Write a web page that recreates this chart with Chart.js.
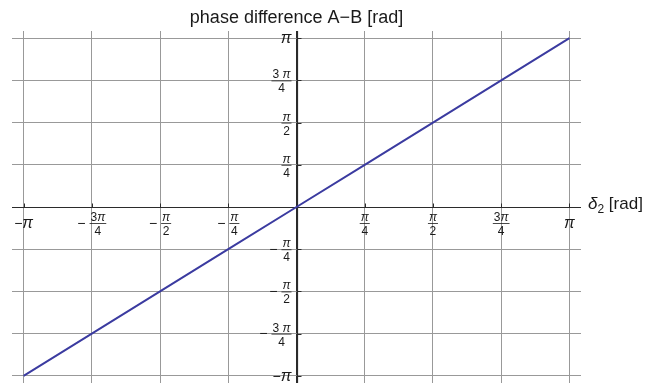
<!DOCTYPE html>
<html>
<head>
<meta charset="utf-8">
<script src="https://cdn.jsdelivr.net/npm/chart.js@4/dist/chart.umd.min.js"></script>
<style>
  html, body { margin: 0; padding: 0; background: #fff; }
  #wrap { width: 664px; height: 389px; }
</style>
</head>
<body>
<div id="wrap"><canvas id="c" width="664" height="389"></canvas></div>
<script>
// delta_2 sweep [rad] and the resulting phase difference A−B [rad]
const delta2 = [-3.1416, -2.3562, -1.5708, -0.7854, 0, 0.7854, 1.5708, 2.3562, 3.1416];
const phaseDiff = [-3.1416, -2.3562, -1.5708, -0.7854, 0, 0.7854, 1.5708, 2.3562, 3.1416];

// gridline / tick positions (multiples of π/4) and their labels
const xTickValues = [-3.1416, -2.3562, -1.5708, -0.7854, 0, 0.7854, 1.5708, 2.3562, 3.1416];
const xTickLabels = ['−π', '−3π/4', '−π/2', '−π/4', '', 'π/4', 'π/2', '3π/4', 'π'];
const yTickValues = [-3.1416, -2.3562, -1.5708, -0.7854, 0, 0.7854, 1.5708, 2.3562, 3.1416];
const yTickLabels = ['−π', '−3 π/4', '−π/2', '−π/4', '', 'π/4', 'π/2', '3 π/4', 'π'];

const titleText = 'phase difference A−B [rad]';
const xAxisName = ['δ', '2', ' [rad]'];

const FONT = "'Liberation Sans', Arial, sans-serif";
const INK = '#1a1a1a';

// draw a label such as "−3π/4" as a stacked fraction with a leading sign
function drawMathLabel(ctx, text, x, y, align) {
  let sign = '';
  if (text.startsWith('−')) { sign = '−'; text = text.slice(1); }
  const parts = text.split('/');
  const signFont = '14px ' + FONT;
  const fracFont = '12px ' + FONT;
  const fracPiFont = 'italic 12px ' + FONT;
  const bigPiFont = 'italic 16px ' + FONT;

  // measure pieces (digits upright, π italic)
  function pieces(str, normalFont, piFont) {
    const out = [];
    for (const ch of str) {
      const f = ch === 'π' ? piFont : normalFont;
      ctx.font = f;
      out.push({ ch, f, w: ctx.measureText(ch).width });
    }
    return out;
  }
  function width(p) { return p.reduce((s, q) => s + q.w, 0); }
  function drawPieces(p, left, baseline) {
    let cx = left;
    for (const q of p) {
      ctx.font = q.f;
      ctx.fillText(q.ch, cx, baseline);
      cx += q.w;
    }
  }

  ctx.save();
  ctx.fillStyle = INK;
  ctx.strokeStyle = INK;
  ctx.textBaseline = 'alphabetic';
  ctx.textAlign = 'left';
  ctx.font = signFont;
  const signW = sign ? ctx.measureText(sign).width : 0;

  if (parts.length === 1) {
    const body = pieces(parts[0], fracFont, bigPiFont);
    const bw = width(body);
    const total = signW + bw;
    const left = align === 'center' ? x - total / 2 : x - total;
    if (sign) { ctx.font = signFont; ctx.fillText(sign, left, y + 5); }
    drawPieces(body, left + signW, y + 5);
  } else {
    const num = pieces(parts[0], fracFont, fracPiFont);
    const den = pieces(parts[1], fracFont, fracPiFont);
    const fw = Math.max(width(num), width(den)) + 2;
    const gap = sign ? 4 : 0;
    const total = signW + gap + fw;
    const left = align === 'center' ? x - total / 2 : x - total;
    if (sign) { ctx.font = signFont; ctx.fillText(sign, left, y + 4.5); }
    const fl = left + signW + gap;
    drawPieces(num, fl + (fw - width(num)) / 2, y - 2);
    drawPieces(den, fl + (fw - width(den)) / 2, y + 12);
    ctx.lineWidth = 0.8;
    ctx.beginPath();
    ctx.moveTo(fl, y + 0.5);
    ctx.lineTo(fl + fw, y + 0.5);
    ctx.stroke();
  }
  ctx.restore();
}

// axes through the origin, tick marks and π-fraction tick labels
const axesPlugin = {
  id: 'originAxes',
  beforeDatasetsDraw(chart) {
    const { ctx, chartArea: a, scales: { x, y } } = chart;
    const x0 = Math.round(x.getPixelForValue(0)) + 0.5;
    const y0 = Math.round(y.getPixelForValue(0)) + 0.5;
    ctx.save();
    ctx.strokeStyle = '#2b2b2b';
    ctx.lineWidth = 1.2;
    ctx.beginPath();
    ctx.moveTo(a.left, y0); ctx.lineTo(a.right, y0);
    ctx.moveTo(x0, a.top); ctx.lineTo(x0, a.bottom);
    ctx.stroke();
    ctx.lineWidth = 1;
    ctx.beginPath();
    xTickValues.forEach(v => {
      const px = Math.round(x.getPixelForValue(v)) + 0.5;
      ctx.moveTo(px, y0); ctx.lineTo(px, y0 - 4);
    });
    yTickValues.forEach(v => {
      const py = Math.round(y.getPixelForValue(v)) + 0.5;
      ctx.moveTo(x0, py); ctx.lineTo(x0 + 4, py);
    });
    ctx.stroke();
    ctx.restore();
  },
  afterDraw(chart) {
    const { ctx, chartArea: a, scales: { x, y } } = chart;
    const x0 = x.getPixelForValue(0);
    const y0 = y.getPixelForValue(0);
    xTickValues.forEach((v, i) => {
      if (!xTickLabels[i]) return;
      drawMathLabel(ctx, xTickLabels[i], x.getPixelForValue(v), y0 + 16, 'center');
    });
    yTickValues.forEach((v, i) => {
      if (!yTickLabels[i]) return;
      drawMathLabel(ctx, yTickLabels[i], x0 - 5, y.getPixelForValue(v), 'right');
    });
    // axis name to the right of the horizontal axis
    ctx.save();
    ctx.fillStyle = INK;
    ctx.textBaseline = 'alphabetic';
    let cx = a.right + 7;
    const base = y0 + 2;
    ctx.font = 'italic 17px ' + FONT;
    ctx.fillText(xAxisName[0], cx, base);
    cx += ctx.measureText(xAxisName[0]).width;
    ctx.font = '12px ' + FONT;
    ctx.fillText(xAxisName[1], cx, base + 4);
    cx += ctx.measureText(xAxisName[1]).width;
    ctx.font = '17px ' + FONT;
    ctx.fillText(xAxisName[2], cx, base);
    ctx.restore();
  }
};

const gridColor = c => (c.tick && c.tick.value === 0 ? '#2b2b2b' : '#999999');

new Chart(document.getElementById('c'), {
  type: 'scatter',
  data: {
    datasets: [{
      data: delta2.map((d, i) => ({ x: d, y: phaseDiff[i] })),
      showLine: true,
      borderColor: '#3b3ba0',
      borderWidth: 2,
      pointRadius: 0,
      fill: false
    }]
  },
  options: {
    responsive: false,
    animation: false,
    layout: { padding: { left: 12, right: 83, top: 0, bottom: 6 } },
    plugins: {
      legend: { display: false },
      tooltip: { enabled: false },
      title: {
        display: true,
        text: titleText,
        color: INK,
        font: { family: FONT, size: 18, weight: 'normal', lineHeight: 1.2 },
        padding: { top: 7, bottom: 2.4 }
      }
    },
    scales: {
      x: {
        type: 'linear',
        min: -3.275, max: 3.275,
        afterBuildTicks: axis => { axis.ticks = xTickValues.map(v => ({ value: v })); },
        ticks: { display: false },
        grid: { color: gridColor, lineWidth: 1, drawTicks: false },
        border: { display: false }
      },
      y: {
        type: 'linear',
        min: -3.275, max: 3.275,
        afterBuildTicks: axis => { axis.ticks = yTickValues.map(v => ({ value: v })); },
        ticks: { display: false },
        grid: { color: gridColor, lineWidth: 1, drawTicks: false },
        border: { display: false }
      }
    }
  },
  plugins: [axesPlugin]
});
</script>
</body>
</html>
